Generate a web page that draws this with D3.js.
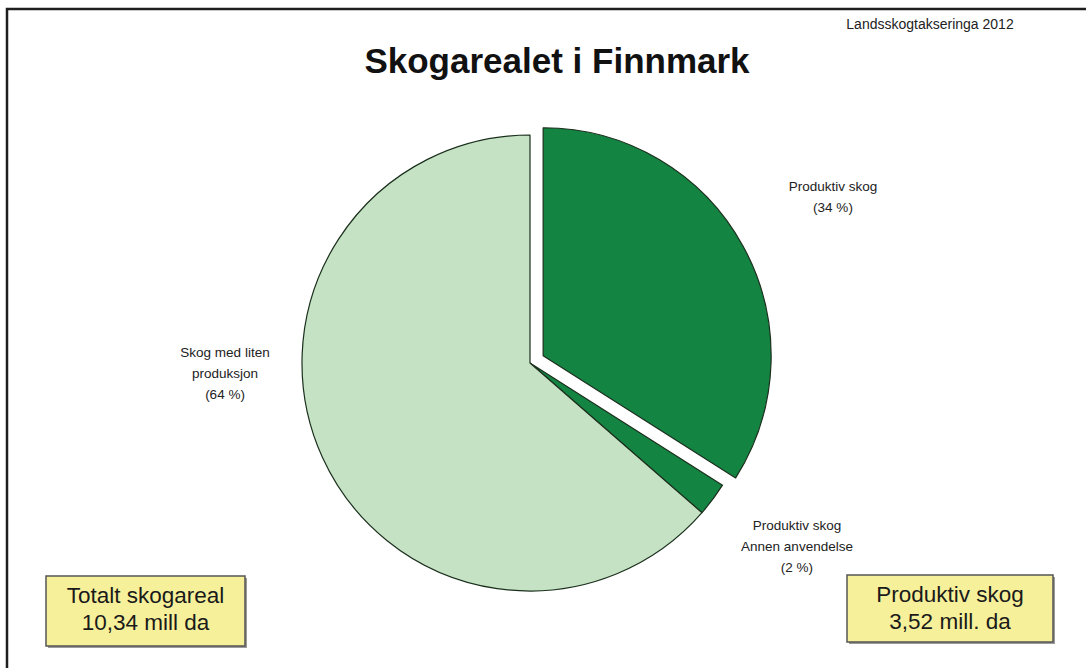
<!DOCTYPE html>
<html lang="en">
<head>
    <meta charset="UTF-8">
    <title>Skogarealet i Finnmark</title>
    <style type="text/css">
        body { margin:0; background:#fff }
        text { font-family: "Liberation Sans", Arial, sans-serif }
    </style>
</head>
<body>
<script src="https://d3js.org/d3.v7.min.js"></script>
<script>
    var width = 1086,
        height = 668,
        svg = d3.select('body').append('svg')
                .attr('width', width)
                .attr('height', height);

    // data
    var categories = ['Produktiv skog', 'Produktiv skog Annen anvendelse', 'Skog med liten produksjon'];
    var shares = [34, 2.4, 63.6];
    var shareLabels = ['(34 %)', '(2 %)', '(64 %)'];
    var labelLines = [
        ['Produktiv skog'],
        ['Produktiv skog', 'Annen anvendelse'],
        ['Skog med liten', 'produksjon']
    ];
    var boxTexts = [
        ['Totalt skogareal', '10,34 mill da'],
        ['Produktiv skog', '3,52 mill. da']
    ];

    // layout
    var cx = 530, cy = 363, radius = 228, explode = 15;
    var colors = ['#138442', '#138442', '#c5e3c4'];
    var labelPos = [[303, -167], [267, 183], [-305, 10]];
    var boxPos = [[46, 576, 199, 70], [847, 575, 206, 67]];

    // frame (only top and left visible)
    svg.append('rect')
        .attr('x', 7).attr('y', 9)
        .attr('width', 1200).attr('height', 800)
        .attr('fill', 'none')
        .attr('stroke', '#1e1e1e')
        .attr('stroke-width', 2.5);

    svg.append('text')
        .attr('x', 930).attr('y', 29)
        .attr('text-anchor', 'middle')
        .attr('font-size', 14)
        .attr('fill', '#222')
        .text('Landsskogtakseringa 2012');

    svg.append('text')
        .attr('x', 557).attr('y', 73)
        .attr('text-anchor', 'middle')
        .attr('font-size', 35)
        .attr('font-weight', 'bold')
        .attr('fill', '#111')
        .text('Skogarealet i Finnmark');

    var pie = d3.pie().sort(null).value(function(d){ return d; });
    var arc = d3.arc().innerRadius(0).outerRadius(radius);
    var arcs = pie(shares);

    var g = svg.append('g').attr('transform', 'translate(' + cx + ',' + cy + ')');

    g.selectAll('path')
        .data(arcs)
        .enter()
        .append('path')
        .attr('d', arc)
        .attr('fill', function(d, i){ return colors[i]; })
        .attr('stroke', '#1b2f1d')
        .attr('stroke-width', 1.2)
        .attr('stroke-linejoin', 'round')
        .attr('transform', function(d, i){
            if (i !== 0) return null;
            var a = (d.startAngle + d.endAngle) / 2;
            return 'translate(' + (Math.sin(a) * explode) + ',' + (-Math.cos(a) * explode) + ')';
        });

    // slice labels
    arcs.forEach(function(d, i){
        var lines = labelLines[i].concat([shareLabels[i]]);
        var t = g.append('text')
            .attr('text-anchor', 'middle')
            .attr('font-size', 13.5)
            .attr('fill', '#222');
        var y0 = labelPos[i][1] - (lines.length - 1) * 21 / 2 + 5;
        lines.forEach(function(l, k){
            t.append('tspan')
                .attr('x', labelPos[i][0])
                .attr('y', y0 + k * 21)
                .text(l);
        });
    });

    // summary boxes
    boxTexts.forEach(function(lines, i){
        var b = boxPos[i];
        svg.append('rect')
            .attr('x', b[0] + 2).attr('y', b[1] + 2)
            .attr('width', b[2]).attr('height', b[3])
            .attr('fill', '#9a9a9a');
        svg.append('rect')
            .attr('x', b[0]).attr('y', b[1])
            .attr('width', b[2]).attr('height', b[3])
            .attr('fill', '#f6f09b')
            .attr('stroke', '#555')
            .attr('stroke-width', 1.5);
        lines.forEach(function(l, k){
            svg.append('text')
                .attr('x', b[0] + b[2] / 2)
                .attr('y', b[1] + 27 + k * 27)
                .attr('text-anchor', 'middle')
                .attr('font-size', 22.5)
                .attr('fill', '#1a1a1a')
                .text(l);
        });
    });
</script>
</body>
</html>
